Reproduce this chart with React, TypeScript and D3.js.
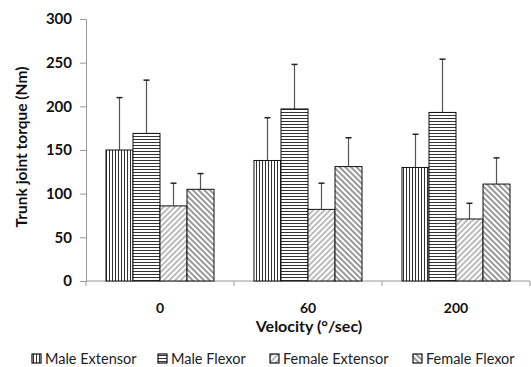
import React, { useEffect, useRef } from "react"
import * as d3 from "d3"

const velocities = ["0", "60", "200"]
const seriesNames = ["Male Extensor", "Male Flexor", "Female Extensor", "Female Flexor"]
const maleExtensor = [150, 138, 130]
const maleExtensorErr = [60, 49, 38]
const maleFlexor = [169, 197, 193]
const maleFlexorErr = [61, 51, 61]
const femaleExtensor = [86, 82, 71]
const femaleExtensorErr = [26, 30, 18]
const femaleFlexor = [105, 131, 111]
const femaleFlexorErr = [18, 33, 30]
const yTicks = [0, 50, 100, 150, 200, 250, 300]

const patternIds = ["pVert", "pHoriz", "pFwd", "pBack"]

export default function App() {
  const ref = useRef<SVGSVGElement>(null)

  useEffect(() => {
    const svg = d3.select(ref.current)
    svg.selectAll("*").remove()
    const W = 531, H = 367
    const left = 86, right = 530, top = 19, bottom = 281
    const font = "Lato, sans-serif"

    const defs = svg.append("defs")
    const addPattern = (id: string, angle: number, color: string, size: number) => {
      const p = defs.append("pattern").attr("id", id)
        .attr("patternUnits", "userSpaceOnUse")
        .attr("width", size).attr("height", size)
        .attr("patternTransform", "rotate(" + angle + ")")
      p.append("rect").attr("width", size).attr("height", size).attr("fill", "white")
      p.append("line").attr("x1", size / 2).attr("x2", size / 2).attr("y1", 0).attr("y2", size)
        .attr("stroke", color).attr("stroke-width", 1)
    }
    addPattern("pVert", 0, "#333", 3)
    addPattern("pHoriz", 90, "#333", 3)
    addPattern("pFwd", 45, "#777", 4)
    addPattern("pBack", -45, "#333", 4)

    const series = [maleExtensor, maleFlexor, femaleExtensor, femaleFlexor]
    const errs = [maleExtensorErr, maleFlexorErr, femaleExtensorErr, femaleFlexorErr]

    const x0 = d3.scaleBand().domain(velocities).range([left, right])
    const x1 = d3.scaleBand().domain(seriesNames).range([0, x0.bandwidth()]).paddingOuter(0.74)
    const y = d3.scaleLinear().domain([0, 300]).range([bottom, top])

    // y axis
    const yAxis = svg.append("g").attr("transform", "translate(" + left + ",0)")
      .call(d3.axisLeft(y).tickValues(yTicks).tickSize(6).tickPadding(8))
    yAxis.selectAll("line").attr("stroke", "#999")
    yAxis.select(".domain").attr("stroke", "#999")
    yAxis.selectAll("text").attr("font-family", font).attr("font-weight", "bold")
      .attr("font-size", 15).attr("fill", "#111")

    // x axis
    const xAxis = svg.append("g").attr("transform", "translate(0," + bottom + ")")
    xAxis.append("line").attr("x1", left).attr("x2", right).attr("stroke", "#999")
    xAxis.selectAll(".tk").data([left, ...velocities.map(v => (x0(v) as number) + x0.bandwidth())])
      .enter().append("line").attr("class", "tk")
      .attr("x1", d => d).attr("x2", d => d).attr("y1", 0).attr("y2", 5).attr("stroke", "#999")
    xAxis.selectAll("text").data(velocities).enter().append("text")
      .attr("x", d => (x0(d) as number) + x0.bandwidth() / 2).attr("y", 32)
      .attr("text-anchor", "middle").attr("font-family", font)
      .attr("font-weight", "bold").attr("font-size", 14).attr("fill", "#111").text(d => d)

    // bars
    series.forEach((vals, s) => {
      const g = svg.append("g")
      vals.forEach((v, i) => {
        const bx = (x0(velocities[i]) as number) + (x1(seriesNames[s]) as number)
        const bw = x1.bandwidth()
        const cx = bx + bw / 2
        g.append("line").attr("x1", cx).attr("x2", cx).attr("y1", y(v)).attr("y2", y(v + errs[s][i]))
          .attr("stroke", "#555").attr("stroke-width", 1.2)
        g.append("line").attr("x1", cx - 3).attr("x2", cx + 3).attr("y1", y(v + errs[s][i])).attr("y2", y(v + errs[s][i]))
          .attr("stroke", "#222").attr("stroke-width", 1.5)
        g.append("rect").attr("x", bx).attr("y", y(v)).attr("width", bw).attr("height", bottom - y(v))
          .attr("fill", "url(#" + patternIds[s] + ")").attr("stroke", "#111").attr("stroke-width", 1)
      })
    })

    // axis titles
    svg.append("text").attr("transform", "translate(27,147) rotate(-90)")
      .attr("text-anchor", "middle").attr("font-family", font).attr("font-weight", "bold")
      .attr("font-size", 15.5).attr("fill", "#111").text("Trunk joint torque (Nm)")
    svg.append("text").attr("x", 309).attr("y", 332).attr("text-anchor", "middle")
      .attr("font-family", font).attr("font-weight", "bold")
      .attr("font-size", 16).attr("fill", "#111").text("Velocity (°/sec)")

    // legend
    const legendX = [32, 158, 270, 413]
    seriesNames.forEach((name, s) => {
      const g = svg.append("g").attr("transform", "translate(" + legendX[s] + ",354)")
      g.append("rect").attr("x", 0).attr("y", 0).attr("width", 9).attr("height", 9)
        .attr("fill", "url(#" + patternIds[s] + ")").attr("stroke", "#111").attr("stroke-width", 1.2)
      g.append("text").attr("x", 13).attr("y", 10).attr("font-family", font)
        .attr("font-size", 14.5).attr("fill", "#222").text(name)
    })
    svg.attr("width", W).attr("height", H)
  }, [])

  return <svg ref={ref} style={{ position: "absolute", left: 0, top: 0, background: "white" }} />
}
